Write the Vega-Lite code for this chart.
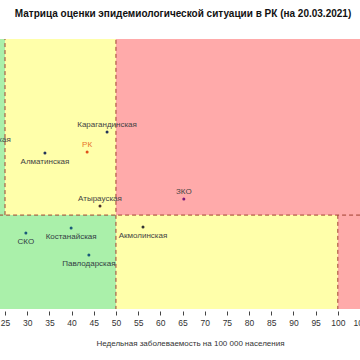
{
  "$schema": "https://vega.github.io/schema/vega-lite/v6.json",
  "autosize": {"type": "none"},
  "width": 360,
  "height": 270,
  "padding": {"left": 0, "top": 39, "right": 0, "bottom": 51},
  "background": "white",
  "config": {"view": {"stroke": null}, "font": "Liberation Sans", "axisX": {"labelOverlap": false}, "axisQuantitative": {"labelOverlap": false}},
  "title": {
    "text": "Матрица оценки эпидемиологической ситуации в РК (на 20.03.2021)",
    "fontSize": 10,
    "fontWeight": "bold",
    "color": "#111",
    "anchor": "middle",
    "baseline": "alphabetic",
    "offset": 12,
    "dx": 3
  },
  "datasets": {
    "zones": [
      {"x": 0, "x2": 25, "y": 1, "y2": 2, "c": "#aaf0aa"},
      {"x": 25, "x2": 50, "y": 1, "y2": 2, "c": "#ffffaa"},
      {"x": 50, "x2": 130, "y": 1, "y2": 2, "c": "#ffaaaa"},
      {"x": 0, "x2": 50, "y": 0, "y2": 1, "c": "#aaf0aa"},
      {"x": 50, "x2": 100, "y": 0, "y2": 1, "c": "#ffffaa"},
      {"x": 100, "x2": 130, "y": 0, "y2": 1, "c": "#ffaaaa"}
    ],
    "lines": [
      {"x": 25, "x2": 25, "y": 1, "y2": 2},
      {"x": 50, "x2": 50, "y": 0, "y2": 2},
      {"x": 100, "x2": 100, "y": 0, "y2": 1},
      {"x": 0, "x2": 130, "y": 1, "y2": 1}
    ],
    "regions": [
      {"name": "Карагандинская", "x": 48.0, "y": 1.354, "pos": "above", "dot": "#22335a", "lab": "#444444"},
      {"name": "РК", "x": 43.5, "y": 1.269, "pos": "above", "dot": "#e0501a", "lab": "#e8742a"},
      {"name": "Алматинская", "x": 34.0, "y": 1.264, "pos": "below", "dot": "#22335a", "lab": "#444444"},
      {"name": "Жамбылская", "x": 20.8, "y": 1.29, "pos": "above", "dot": "#22335a", "lab": "#444444"},
      {"name": "Атырауская", "x": 46.4, "y": 1.039, "pos": "above", "dot": "#4a3030", "lab": "#444444"},
      {"name": "ЗКО", "x": 65.3, "y": 1.068, "pos": "above", "dot": "#7a1a7a", "lab": "#444444"},
      {"name": "Акмолинская", "x": 56.1, "y": 0.949, "pos": "below", "dot": "#333333", "lab": "#444444"},
      {"name": "СКО", "x": 29.7, "y": 0.924, "pos": "below", "dot": "#1a5a7a", "lab": "#333d44"},
      {"name": "Костанайская", "x": 39.9, "y": 0.945, "pos": "below", "dot": "#1a5a7a", "lab": "#333d44"},
      {"name": "Павлодарская", "x": 43.9, "y": 0.83, "pos": "below", "dot": "#1a5a7a", "lab": "#333d44"}
    ]
  },
  "encoding": {
    "x": {"field": "x", "type": "quantitative", "scale": {"domain": [23.87, 105.0], "nice": false, "zero": false},
      "axis": {"values": [25,30,35,40,45,50,55,60,65,70,75,80,85,90,95,100,105], "title": "Недельная заболеваемость на 100 000 населения",
        "grid": false, "domain": false, "tickColor": "#444", "tickSize": 4, "offset": 2, "labelFontSize": 8.5, "labelColor": "#333",
        "labelPadding": 3, "labelOverlap": false, "titleFontSize": 8, "titleFontWeight": "normal", "titleColor": "#333", "titlePadding": 13, "titleX": 190, "labelFlush": false}},
    "y": {"field": "y", "type": "quantitative", "scale": {"domain": [0.6, 1.75], "nice": false, "zero": false}, "axis": null}
  },
  "layer": [
    {
      "data": {"name": "zones"},
      "mark": {"type": "rect", "clip": true},
      "encoding": {
        "x2": {"field": "x2"},
        "y2": {"field": "y2"},
        "color": {"field": "c", "type": "nominal", "scale": null}
      }
    },
    {
      "data": {"name": "lines"},
      "mark": {"type": "rule", "clip": true, "strokeDash": [4, 3], "color": "#a04030", "strokeWidth": 1},
      "encoding": {
        "x2": {"field": "x2"},
        "y2": {"field": "y2"}
      }
    },
    {
      "data": {"name": "regions"},
      "mark": {"type": "circle", "clip": true, "size": 9, "opacity": 1},
      "encoding": {
        "color": {"field": "dot", "type": "nominal", "scale": null}
      }
    },
    {
      "data": {"name": "regions"},
      "transform": [{"filter": "datum.pos === 'above'"}],
      "mark": {"type": "text", "clip": true, "fontSize": 8, "dy": -7},
      "encoding": {
        "text": {"field": "name"},
        "color": {"field": "lab", "type": "nominal", "scale": null}
      }
    },
    {
      "data": {"name": "regions"},
      "transform": [{"filter": "datum.pos === 'below'"}],
      "mark": {"type": "text", "clip": true, "fontSize": 8, "dy": 9},
      "encoding": {
        "text": {"field": "name"},
        "color": {"field": "lab", "type": "nominal", "scale": null}
      }
    }
  ]
}
